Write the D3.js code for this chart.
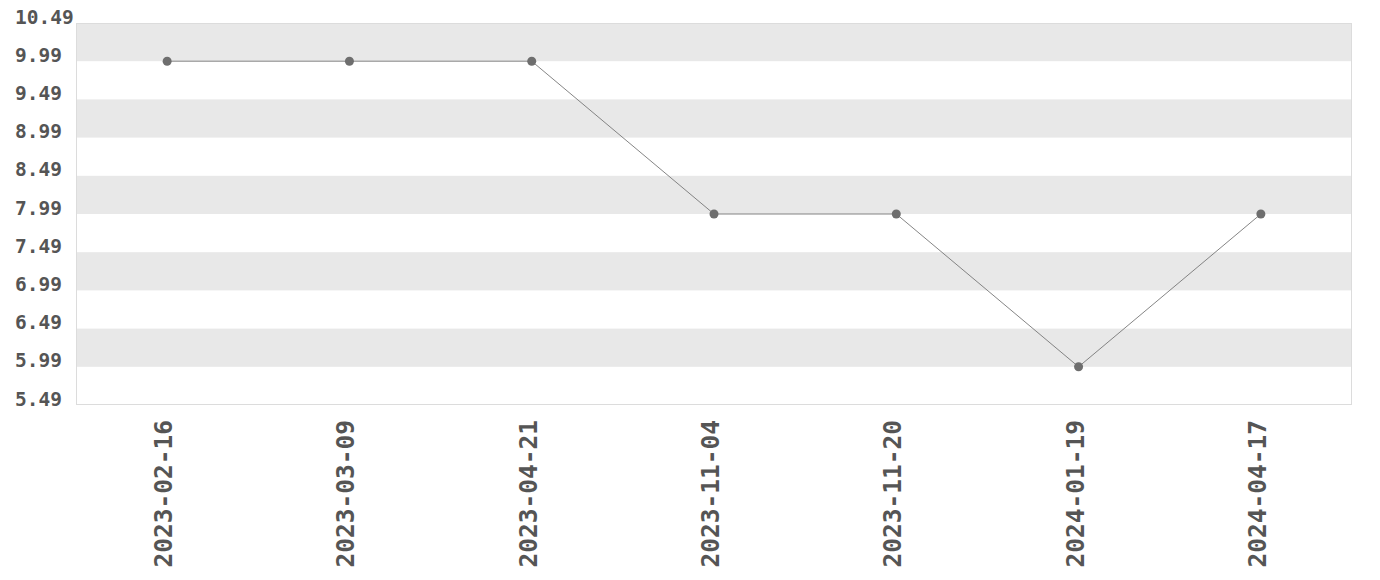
<!DOCTYPE html>
<html><head><meta charset="utf-8">
<script src="https://cdn.jsdelivr.net/npm/d3@7"></script>
<style>body{margin:0;background:#fff}</style>
</head><body>
<svg id="c" width="1380" height="580"></svg>
<script>
const dates = ["2023-02-16","2023-03-09","2023-04-21","2023-11-04","2023-11-20","2024-01-19","2024-04-17"];
const prices = [9.99, 9.99, 9.99, 7.99, 7.99, 5.99, 7.99];
const yTicks = [5.49, 5.99, 6.49, 6.99, 7.49, 7.99, 8.49, 8.99, 9.49, 9.99, 10.49];

const svg = d3.select("#c");
const m = {l:76, r:28, t:23, b:175};
const W = 1380, H = 580;
const x = d3.scaleBand().domain(dates).range([m.l, W - m.r]);
const y = d3.scaleLinear().domain([5.49, 10.49]).range([H - m.b, m.t]);

// bands
const bands = d3.pairs(yTicks).filter((d,i) => i % 2 === 1);
svg.append("g").selectAll("rect").data(bands).join("rect")
  .attr("x", m.l).attr("width", W - m.r - m.l)
  .attr("y", d => y(d[1])).attr("height", d => y(d[0]) - y(d[1]))
  .attr("fill", "#e8e8e8");

svg.append("rect").attr("x", m.l + 0.5).attr("y", m.t + 0.5)
  .attr("width", W - m.r - m.l - 1).attr("height", H - m.b - m.t - 1)
  .attr("fill", "none").attr("stroke", "#dcdcdc");

const font = "'DejaVu Sans Mono', monospace";
const yAxis = svg.append("g").attr("transform", `translate(${m.l},0)`)
  .call(d3.axisLeft(y).tickValues(yTicks).tickFormat(d3.format(".2f")).tickSize(0));
yAxis.select(".domain").remove();
yAxis.selectAll("text").attr("font-family", font).attr("font-weight", "bold")
  .attr("font-size", 19.5).attr("fill", "#555").attr("dy", "0")
  .attr("text-anchor", "start").attr("x", -61);

const xAxis = svg.append("g").attr("transform", `translate(0,${H - m.b})`)
  .call(d3.axisBottom(x).tickSize(0));
xAxis.select(".domain").remove();
xAxis.selectAll("text").attr("font-family", font).attr("font-weight", "bold")
  .attr("font-size", 24.5).attr("fill", "#555")
  .attr("transform", "rotate(-90)").attr("text-anchor", "end")
  .attr("x", -15).attr("y", 0).attr("dy", "5px");

const cx = d => x(d) + x.bandwidth() / 2;
svg.append("path").datum(dates.map((d,i) => [cx(d), y(prices[i])]))
  .attr("d", d3.line()).attr("fill", "none").attr("stroke", "#777").attr("stroke-width", 0.9);
svg.append("g").selectAll("circle").data(dates).join("circle")
  .attr("cx", cx).attr("cy", (d,i) => y(prices[i])).attr("r", 4.5)
  .attr("fill", "#6e6e6e");
</script>
</body></html>
